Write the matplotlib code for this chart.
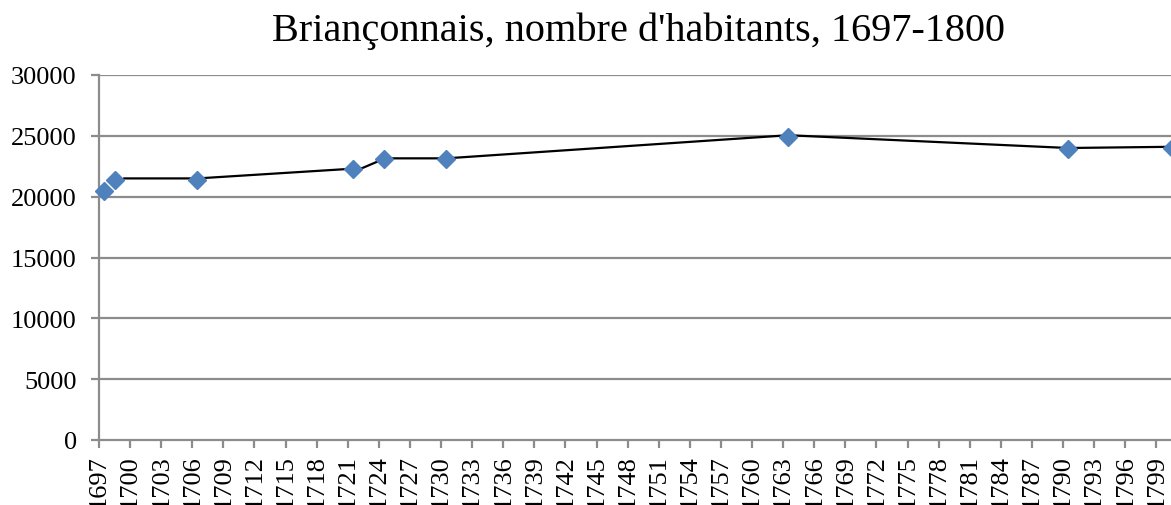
import matplotlib.pyplot as plt
import numpy as np

# marker series (one diamond per census year)
years = [1697, 1698, 1706, 1721, 1724, 1730, 1763, 1790, 1800]
habitants = [20500, 21400, 21400, 22300, 23100, 23100, 24900, 23900, 24000]

# the black connecting line, as it sits in the picture
line_years = [1698.4, 1699.4, 1706.5, 1722.4, 1724.6, 1730.5, 1763.5, 1790.5, 1800.5]
line_values = [20900, 21500, 21500, 22350, 23150, 23150, 25050, 24000, 24100]

x_ticks = list(range(1697, 1800, 3))
y_ticks = [0, 5000, 10000, 15000, 20000, 25000, 30000]

plt.rcParams['font.family'] = ['Liberation Serif', 'DejaVu Serif']
grey = '#8c8c8c'

fig = plt.figure(figsize=(11.71, 5.06), dpi=100)
ax = fig.add_axes([99/1171, 65/506, 1078/1171, 365/506])

ax.set_xlim(1697, 1801)
ax.set_ylim(0, 30000)

for y in y_ticks[1:]:
    ax.axhline(y, color=grey, lw=1.6, zorder=1)

ax.plot(line_years, line_values, color='black', lw=1.6, zorder=2)
ax.plot(np.array(years) + 0.5, habitants, linestyle='none', marker='D',
        markersize=9.5, color='#4F81BD', markeredgecolor='#4F81BD', zorder=3,
        clip_on=False)

for s in ['top', 'right']:
    ax.spines[s].set_visible(False)
for s in ['left', 'bottom']:
    ax.spines[s].set_color(grey)
    ax.spines[s].set_linewidth(1.6)

ax.set_xticks(x_ticks)
ax.set_xticklabels([str(t) for t in x_ticks], rotation=90, fontsize=19)
ax.set_yticks(y_ticks)
ax.set_yticklabels([str(t) for t in y_ticks], fontsize=19)
ax.tick_params(axis='both', color=grey, width=1.6, length=6, direction='out')
ax.tick_params(axis='x', pad=4)
ax.tick_params(axis='y', pad=10)

fig.text(638/1171, 1 - 31/506, "Briançonnais, nombre d'habitants, 1697-1800",
         ha='center', va='center', fontsize=29)

fig.savefig('out.png', dpi=100)
